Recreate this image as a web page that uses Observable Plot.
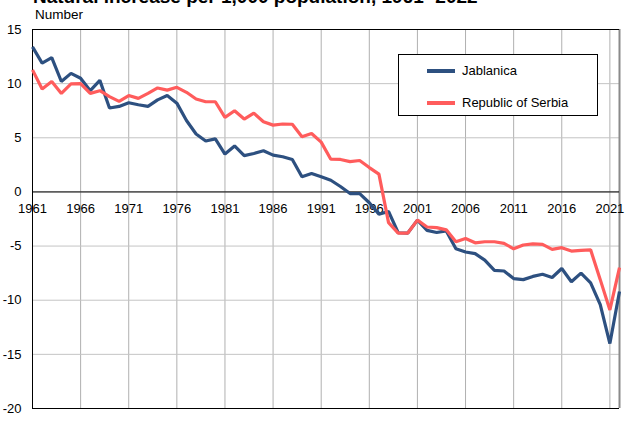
<!DOCTYPE html>
<html>
<head>
<meta charset="utf-8">
<script src="https://cdn.jsdelivr.net/npm/d3@7"></script>
<script src="https://cdn.jsdelivr.net/npm/@observablehq/plot@0.6"></script>
<style>
  html, body { margin: 0; padding: 0; background: #fff; overflow: hidden; }
  body { width: 629px; height: 428px; position: relative; font-family: "Liberation Sans", Arial, sans-serif; }
  #title { position: absolute; left: 33px; top: -13px; font-size: 19px; line-height: 19px; font-weight: bold; white-space: nowrap; color: #000; }
  #sub { position: absolute; left: 35px; top: 8px; font-size: 13.5px; line-height: 14px; color: #000; }
  #chart { position: absolute; left: 0; top: 0; }
  #legend { position: absolute; left: 398px; top: 54px; width: 200px; height: 62px; border: 1px solid #000; background: #fff; box-sizing: border-box; }
  .item { position: absolute; left: 28px; font-size: 13px; line-height: 14px; white-space: nowrap; }
  .sw { display: inline-block; width: 28px; height: 4px; vertical-align: middle; margin-right: 7px; position: relative; top: -1px; }
</style>
</head>
<body>
<div id="chart"></div>
<div id="title">Natural increase per 1,000 population, 1961- 2022</div>
<div id="sub">Number</div>
<div id="legend"></div>
<script>
const years = d3.range(1961, 2023);
const jablanica = [13.4, 11.9, 12.4, 10.2, 10.95, 10.5, 9.35, 10.3, 7.75, 7.9,
  8.24, 8.05, 7.9, 8.5, 8.9, 8.2, 6.6, 5.35, 4.7, 4.9,
  3.5, 4.25, 3.35, 3.55, 3.8, 3.4, 3.25, 3.0, 1.4, 1.7,
  1.4, 1.08, 0.5, -0.15, -0.15, -1.0, -2.05, -1.8, -3.77, -3.8,
  -2.6, -3.55, -3.75, -3.6, -5.25, -5.55, -5.7, -6.3, -7.25, -7.3,
  -8.0, -8.1, -7.8, -7.6, -7.9, -7.07, -8.3, -7.5, -8.4, -10.4,
  -14.0, -9.2];
const serbia = [11.27, 9.5, 10.2, 9.1, 9.97, 10.0, 9.1, 9.35, 8.8, 8.36,
  8.9, 8.64, 9.1, 9.6, 9.4, 9.66, 9.2, 8.58, 8.33, 8.33,
  6.88, 7.5, 6.73, 7.28, 6.48, 6.17, 6.27, 6.25, 5.09, 5.4,
  4.6, 3.02, 3.0, 2.8, 2.9, 2.25, 1.64, -2.84, -3.8, -3.8,
  -2.6, -3.24, -3.3, -3.5, -4.6, -4.3, -4.7, -4.6, -4.6, -4.75,
  -5.25, -4.9, -4.8, -4.85, -5.3, -5.15, -5.46, -5.4, -5.35, -8.1,
  -10.9, -7.0];
const seriesNames = ["Jablanica", "Republic of Serbia"];
const seriesColors = ["#2d5080", "#ff5c5c"];
const xTicks = d3.range(1961, 2022, 5);
const yTicks = d3.range(-20, 16, 5);

const rows = [];
years.forEach((y, i) => {
  rows.push({year: y, value: jablanica[i], series: seriesNames[0]});
  rows.push({year: y, value: serbia[i], series: seriesNames[1]});
});

const font = "Liberation Sans, Arial, sans-serif";
const chart = Plot.plot({
  width: 629,
  height: 428,
  marginLeft: 32,
  marginRight: 10,
  marginTop: 29,
  marginBottom: 20,
  style: {fontFamily: font, fontSize: "13px", background: "#fff", color: "#000"},
  x: {domain: [1961, 2022], axis: null},
  y: {domain: [-20, 15], ticks: yTicks, tickSize: 0, tickPadding: 11, tickFormat: d => String(d), label: null},
  color: {domain: seriesNames, range: seriesColors},
  marks: [
    Plot.gridX(xTicks.slice(1), {stroke: "#b0b0b0", strokeOpacity: 1, strokeWidth: 1}),
    Plot.gridY(yTicks, {stroke: "#c4c4c4", strokeOpacity: 1, strokeWidth: 1}),
    Plot.ruleX([2022], {stroke: "#8a8a8a", strokeWidth: 2}),
    Plot.ruleX([1961], {stroke: "#000", strokeWidth: 1}),
    Plot.ruleY([15, -20], {stroke: "#000", strokeWidth: 1}),
    Plot.ruleY([0], {stroke: "#000", strokeWidth: 1}),
    Plot.text(xTicks, {x: d => d, y: 0, dy: 17, text: d => String(d), fontSize: 13, fill: "#000"}),
    Plot.line(rows, {x: "year", y: "value", z: "series", stroke: "series", strokeWidth: 3.2, strokeLinejoin: "miter", strokeLinecap: "butt"}),
    Plot.axisY({ticks: yTicks, tickSize: 0, tickPadding: 11, tickFormat: d => String(d), fontSize: 13, label: null})
  ]
});
document.getElementById("chart").appendChild(chart);

const legend = document.getElementById("legend");
seriesNames.forEach((n, i) => {
  const d = document.createElement("div");
  d.className = "item";
  d.style.top = (i === 0 ? 9 : 41) + "px";
  d.innerHTML = `<span class="sw" style="background:${seriesColors[i]}"></span>${n}`;
  legend.appendChild(d);
});
</script>
</body>
</html>
